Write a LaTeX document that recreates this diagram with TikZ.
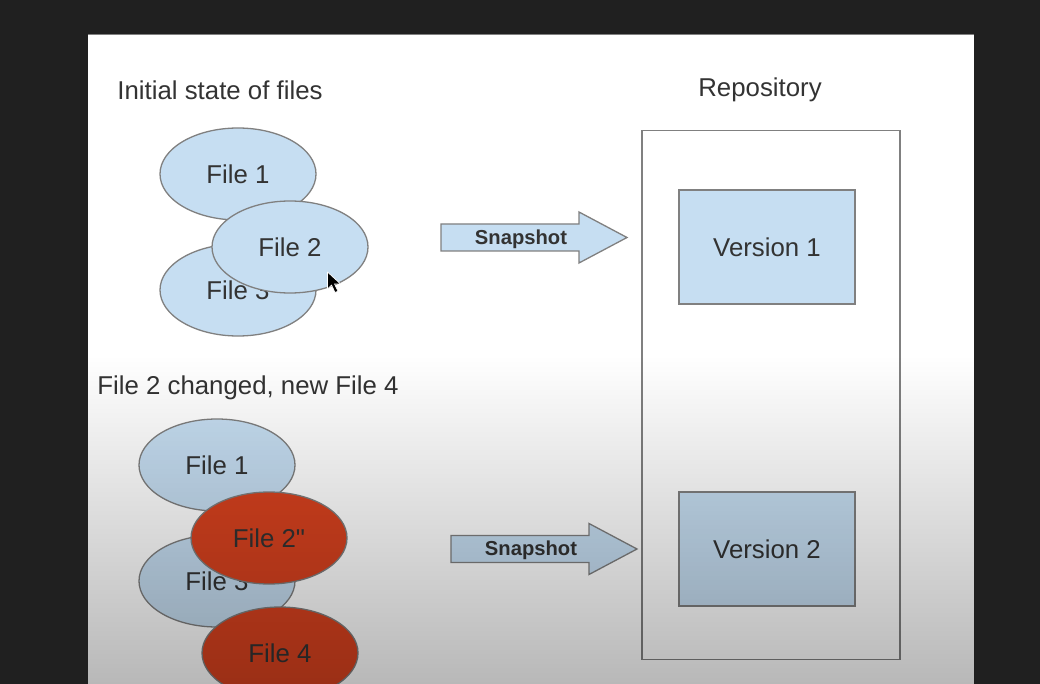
\documentclass[tikz,border=0pt]{standalone}
\usepackage{fontspec}
\setmainfont{Liberation Sans}
\usetikzlibrary{shapes.geometric}
\definecolor{pagebg}{HTML}{202020}
\definecolor{ink}{HTML}{333333}
\definecolor{fileblue}{HTML}{C6DEF2}
\definecolor{filered}{HTML}{D8421F}
\definecolor{edge}{HTML}{808080}
\definecolor{shadebot}{HTML}{B8B8B8}
% straight double quote, set as a glyph so the TeX mapping leaves it alone
\newcommand\straightquote{\XeTeXglyph\XeTeXcharglyph"22\relax}
\begin{document}
\begin{tikzpicture}[x=1pt,y=-1pt,
  lbl/.style={font=\fontsize{25.8}{30}\selectfont, text=ink},
  file/.style={ellipse, draw=edge, line width=1.3pt, minimum width=156pt,
    minimum height=92pt, inner sep=0pt, lbl},
  bluefile/.style={file, fill=fileblue},
  redfile/.style={file, fill=filered},
  version/.style={rectangle, draw=edge, line width=1.3pt, fill=fileblue,
    minimum width=176pt, minimum height=114pt, lbl},
  snaparrow/.style={draw=edge, line width=1.3pt, fill=fileblue},
  snaplbl/.style={font=\fontsize{20.2}{24}\selectfont\bfseries, text=ink},
  snapshot/.pic={
    \draw[snaparrow] (0,-13.5) -- (138,-13.5) -- (138,-25.5) -- (186,0)
      -- (138,25.5) -- (138,13.5) -- (0,13.5) -- cycle;
    \node[snaplbl] (-label) at (80,1.5) {Snapshot};
  },
]
\useasboundingbox (0,0) rectangle (1040,684);
% screen and slide
\fill[pagebg] (0,0) rectangle (1040,684);
\fill[white] (88,34) rectangle (974,684);
\draw[gray, line width=1pt] (88,34.5) -- (974,34.5);

% headings
\node[lbl] (t1) at (220,90) {Initial state of files};
\node[lbl] (trepo) at (760,90) {Repository};
\node[lbl] (t2) at (248,388) {File 2 changed, new File 4};

% repository with its versions
\node[draw=edge, line width=1.3pt, minimum width=258pt, minimum height=529pt,
  inner sep=0pt] (repo) at (771,395) {};
\node[version] (v1) at (767,247) {Version 1};
\node[version] (v2) at (767,549) {Version 2};

% first set of files
\node[bluefile] (a1) at (238,174) {File 1};
\node[bluefile] (a3) at (238,290) {File 3};
\node[bluefile] (a2) at (290,247) {File 2};

% second set of files
\node[bluefile] (b1) at (217,465) {File 1};
\node[bluefile] (b3) at (217,581) {File 3};
\node[redfile] (b2) at (269,538) {File 2\straightquote};
\node[redfile] (b4) at (280,653) {File 4};

% snapshot arrows
\pic (s1) at (441,237.5) {snapshot};
\pic (s2) at (451,549) {snapshot};

% darkening towards the bottom of the slide
\begin{scope}[blend mode=multiply]
  \shade[top color=white, bottom color=shadebot] (88,355) rectangle (974,684);
\end{scope}

% mouse pointer
\coordinate (ptr) at (327.5,272);
\filldraw[fill=black, draw=white, line width=0.7pt, line join=round]
  (ptr) -- ++(0,17) -- ++(4,-4) -- ++(3.5,7.5) -- ++(3,-1.3) -- ++(-3.5,-7.3)
  -- ++(6,0) -- cycle;
\end{tikzpicture}
\end{document}
